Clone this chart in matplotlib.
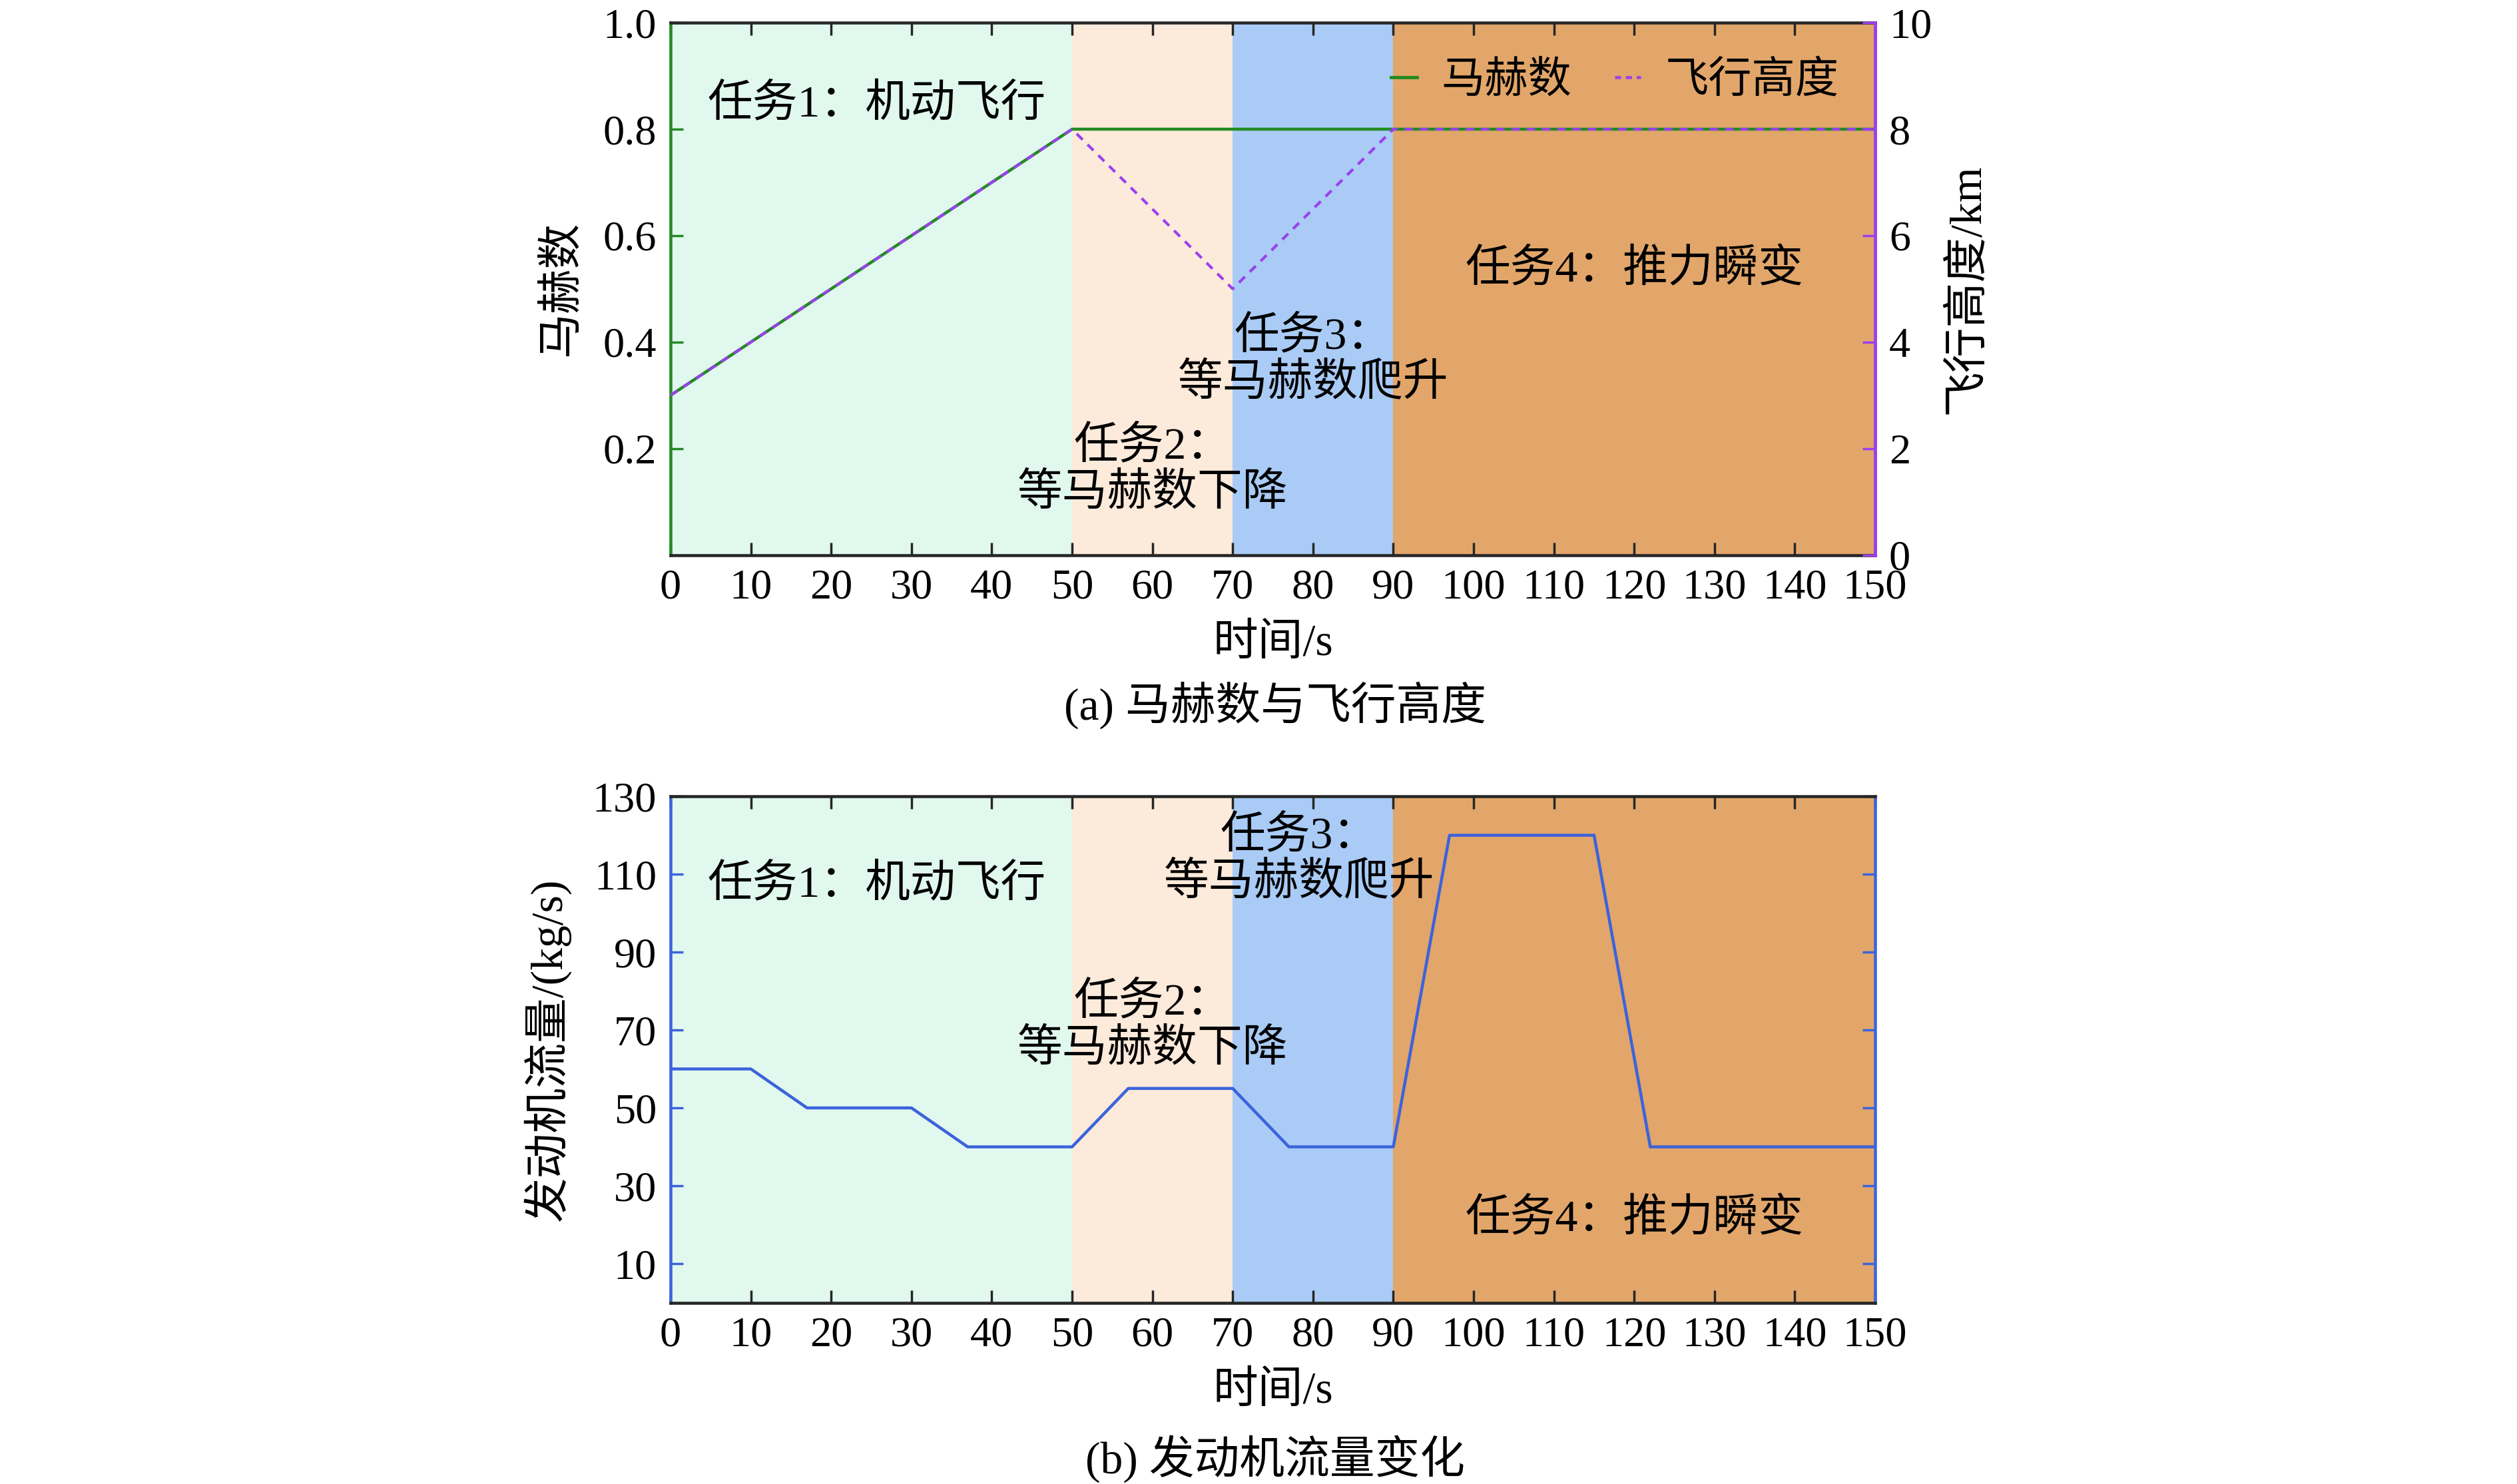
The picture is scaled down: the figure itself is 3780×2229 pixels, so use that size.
import matplotlib
matplotlib.use("Agg")
import matplotlib.pyplot as plt
from matplotlib.lines import Line2D

plt.rcParams['font.family'] = ['Liberation Serif', 'Noto Sans CJK SC', 'DejaVu Sans']
plt.rcParams['axes.unicode_minus'] = False

# ---------------- data ----------------
region_edges = [0, 50, 70, 90, 150]
region_colors = ['#E1F8EE', '#FCEADB', '#A9CBF5', '#E2A66A']

mach_t = [0, 50, 150]
mach_v = [0.3, 0.8, 0.8]

alt_t = [0, 50, 70, 90, 150]
alt_v = [3, 8, 5, 8, 8]

flow_t = [0, 10, 17, 30, 37, 50, 57, 70, 77, 90, 97, 115, 122, 150]
flow_v = [60, 60, 50, 50, 40, 40, 55, 55, 40, 40, 120, 120, 40, 40]

xticks = list(range(0, 151, 10))
mach_ticks = [0.2, 0.4, 0.6, 0.8, 1.0]
alt_ticks = [0, 2, 4, 6, 8, 10]
flow_ticks = [10, 30, 50, 70, 90, 110, 130]

task_labels = ['任务1：机动飞行', '任务2：\n等马赫数下降', '任务3：\n等马赫数爬升', '任务4：推力瞬变']

# ---------------- style ----------------
GREEN = '#228B22'
PURPLE = '#9B40EE'
BLUE = '#3B63DC'
DARK = '#262626'
FS_TICK = 18.5
FS_TXT = 19.5
FS_LEG = 18.8

fig = plt.figure(figsize=(15.12, 8.916), dpi=250)

def style_common(ax, lpad):
    for i in range(4):
        ax.axvspan(region_edges[i], region_edges[i + 1], color=region_colors[i], lw=0, zorder=0)
    ax.set_xlim(0, 150)
    ax.set_xticks(xticks)
    ax.tick_params(axis='x', direction='in', top=True, bottom=True, length=5.5, width=1.0,
                   color=DARK, labelsize=FS_TICK, pad=6)
    ax.spines['top'].set_color(DARK)
    ax.spines['bottom'].set_color(DARK)
    for s in ax.spines.values():
        s.set_linewidth(1.3)
    ax.set_xlabel('时间/s', fontsize=FS_TXT, labelpad=lpad)

# ---------------- (a) ----------------
ax1 = fig.add_axes([0.2664, 0.6260, 0.4786, 0.3587])
style_common(ax1, 7)
ax1.set_ylim(0, 1.0)
ax1.set_yticks(mach_ticks)
ax1.set_yticklabels(['0.2', '0.4', '0.6', '0.8', '1.0'])
ax1.tick_params(axis='y', direction='in', length=5.5, width=1.0, color=GREEN, labelsize=FS_TICK, pad=6)
ax1.spines['left'].set_color(GREEN)
ax1.spines['right'].set_color(PURPLE)
l1, = ax1.plot(mach_t, mach_v, color=GREEN, lw=1.3, zorder=3)
ax1.set_ylabel('马赫数', fontsize=FS_TXT, labelpad=9)

ax1r = ax1.twinx()
ax1r.set_ylim(0, 10)
ax1r.set_yticks(alt_ticks)
ax1r.tick_params(axis='y', direction='in', length=5.5, width=1.0, color=PURPLE, labelsize=FS_TICK, pad=6)
for k in ['left', 'top', 'bottom']:
    ax1r.spines[k].set_visible(False)
ax1r.spines['right'].set_color(PURPLE)
ax1r.spines['right'].set_linewidth(1.3)
l2, = ax1r.plot(alt_t, alt_v, color=PURPLE, lw=1.2, dashes=(3, 2.5), zorder=4)
ax1r.set_ylabel('飞行高度/km', fontsize=FS_TXT, labelpad=6)

ax1r.legend([Line2D([0], [0], color=GREEN, lw=1.4),
             Line2D([0], [0], color=PURPLE, lw=1.3, dashes=(2, 1.6))],
            ['马赫数', '飞行高度'], loc='upper right', ncol=2, frameon=False,
            fontsize=FS_LEG, handlelength=0.6, handletextpad=0.55, columnspacing=1.0,
            bbox_to_anchor=(0.995, 0.985), borderaxespad=0.3)

ax1.text(4.6, 0.846, task_labels[0], fontsize=FS_TXT, ha='left', va='center', zorder=5)
ax1.text(60, 0.16, task_labels[1], fontsize=FS_TXT, ha='center', va='center',
         multialignment='center', linespacing=1.15, zorder=5)
ax1.text(80, 0.366, task_labels[2], fontsize=FS_TXT, ha='center', va='center',
         multialignment='center', linespacing=1.15, zorder=5)
ax1.text(120, 0.535, task_labels[3], fontsize=FS_TXT, ha='center', va='center', zorder=5)

fig.text(0.5065, 1 - 1059 / 2229, '(a) 马赫数与飞行高度', fontsize=FS_TXT, ha='center', va='center')

# ---------------- (b) ----------------
ax2 = fig.add_axes([0.2664, 0.1222, 0.4786, 0.3412])
style_common(ax2, 7)
ax2.set_ylim(0, 130)
ax2.set_yticks(flow_ticks)
ax2.tick_params(axis='y', direction='in', left=True, right=True, length=5.5, width=1.0,
                color=BLUE, labelsize=FS_TICK, pad=6)
ax2.spines['left'].set_color(BLUE)
ax2.spines['right'].set_color(BLUE)
ax2.plot(flow_t, flow_v, color=BLUE, lw=1.3, zorder=3)
ax2.set_ylabel('发动机流量/(kg/s)', fontsize=FS_TXT, labelpad=9)

ax2.text(4.6, 107.4, task_labels[0], fontsize=FS_TXT, ha='left', va='center', zorder=5)
ax2.text(60, 71, task_labels[1], fontsize=FS_TXT, ha='center', va='center',
         multialignment='center', linespacing=1.15, zorder=5)
ax2.text(78.3, 113.8, task_labels[2], fontsize=FS_TXT, ha='center', va='center',
         multialignment='center', linespacing=1.15, zorder=5)
ax2.text(120, 21.4, task_labels[3], fontsize=FS_TXT, ha='center', va='center', zorder=5)

fig.text(0.5065, 1 - 2192 / 2229, '(b) 发动机流量变化', fontsize=FS_TXT, ha='center', va='center')

fig.savefig('out.png', dpi=250)
